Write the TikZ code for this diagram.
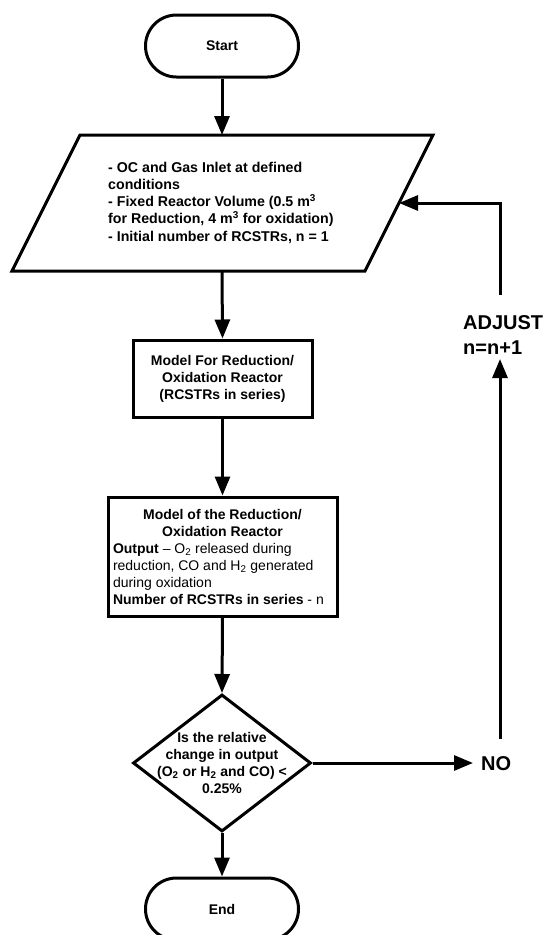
\documentclass[tikz,border=0pt]{standalone}
\usepackage{fontspec}
\setmainfont{Liberation Sans}
\usetikzlibrary{arrows.meta,shapes.geometric}
\tikzset{
  every node/.style={font=\fontsize{14}{17.2}\selectfont},
  terminal/.style={draw,line width=3pt,rectangle,rounded corners=31pt,minimum width=153pt,minimum height=62pt,inner sep=0pt,font=\fontsize{14}{17.2}\selectfont\bfseries},
  procbox/.style={draw,line width=3pt,rectangle,inner sep=0pt},
  decision/.style={draw,line width=3pt,diamond,minimum width=178pt,minimum height=137pt,inner sep=0pt},
  plain/.style={inner sep=0pt},
  arr/.style={line width=3pt,-{Triangle[length=19pt,width=15pt]}},
  ln/.style={line width=3pt},
  big/.style={inner sep=0pt,font=\fontsize{20}{25}\selectfont\bfseries}
}
\begin{document}
\begin{tikzpicture}[x=1pt,y=-1pt]
\useasboundingbox (0,0) rectangle (549,935);
% Start
\node[terminal] (start) at (222,46) {Start};
% Input parallelogram
\draw[ln,line join=miter] (80,135) -- (433,135) -- (365,271) -- (12,271) -- cycle;
\coordinate (pTop) at (222,135);
\coordinate (pBot) at (222,271);
\coordinate (pRight) at (399,203);
\node[plain,anchor=west,align=left,font=\fontsize{14.2}{17.25}\selectfont\bfseries] (inp) at (108,202.5)
 {- OC and Gas Inlet at defined\\conditions\\- Fixed Reactor Volume (0.5 m\textsuperscript{3}\\for Reduction, 4 m\textsuperscript{3} for oxidation)\\- Initial number of RCSTRs, n = 1};
% Box 1
\node[procbox,minimum width=179pt,minimum height=77pt,align=center,font=\fontsize{14}{17}\selectfont\bfseries] (m1) at (222.5,378.5)
 {Model For Reduction/\\Oxidation Reactor\\(RCSTRs in series)};
% Box 2
\node[procbox,minimum width=229pt,minimum height=119pt] (m2) at (222.5,556.5)
 {\begin{minipage}{219pt}\fontsize{14}{17}\selectfont
  {\centering\bfseries Model of the Reduction/\\Oxidation Reactor\par}
  \raggedright\textbf{Output} -- O\textsubscript{2} released during reduction, CO and H\textsubscript{2} generated during oxidation\\
  \textbf{Number of RCSTRs in series} - n\par
 \end{minipage}};
% Decision
\node[decision] (dec) at (222,763) {};
\node[plain,align=center,font=\fontsize{14}{17}\selectfont\bfseries] (dtext) at (222,762.5)
 {Is the relative\\change in output\\(O\textsubscript{2} or H\textsubscript{2} and CO) <\\0.25\%};
% End
\node[terminal] (end) at (222,909) {End};
% NO and ADJUST
\node[big,anchor=west] (no) at (481,764) {NO};
\node[big,align=left,anchor=west] (adj) at (463,335) {ADJUST\\n=n+1};
\coordinate (noIn) at (473,763);
\coordinate (r1) at (500,739);
\coordinate (r2) at (500,359);
\coordinate (r3) at (500,295);
\coordinate (r4) at (500,203);
% connectors
\draw[arr] (start.south) -- (pTop);
\draw[arr] (pBot) -- (m1.north);
\draw[arr] (m1.south) -- (m2.north);
\draw[arr] (m2.south) -- (dec.north);
\draw[arr] (dec.south) -- (end.north);
\draw[arr] (dec.east) -- (noIn);
\draw[arr] (r1) -- (r2);
\draw[arr,line join=miter] (r3) -- (r4) -- (pRight);
\end{tikzpicture}
\end{document}
